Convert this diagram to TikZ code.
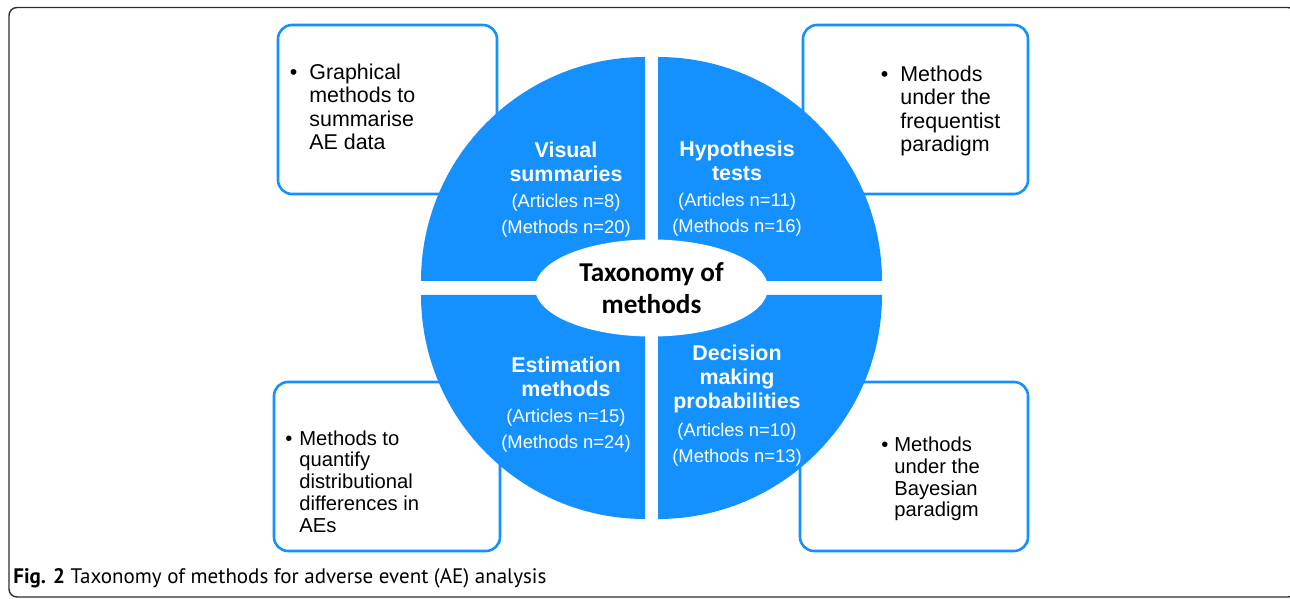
\documentclass[tikz,border=0pt]{standalone}
\usepackage{fontspec}
\setmainfont{Liberation Sans}
\newfontfamily\calibfont{Carlito}
\newfontfamily\capfont{PT Sans}
\usetikzlibrary{shapes.geometric}

\definecolor{aeblue}{RGB}{21,145,255}
\definecolor{framegray}{RGB}{45,45,45}

\tikzset{
  quarter/.style={fill=aeblue},
  infobox/.style={draw=aeblue, line width=1.3pt, rounded corners=7pt, fill=white, inner sep=0pt},
  boxtext/.style={align=left, anchor=west, inner sep=0pt, font=\fontsize{10.7}{11.65}\selectfont},
  boxtextsm/.style={align=left, anchor=west, inner sep=0pt, font=\fontsize{10.1}{10.9}\selectfont},
  qtitle/.style={align=center, inner sep=0pt, text=white, font=\fontsize{10.7}{12}\selectfont\bfseries},
  qcount/.style={align=center, inner sep=0pt, text=white, font=\fontsize{9.2}{13}\selectfont}
}

\begin{document}
\begin{tikzpicture}[x=0.5pt, y=0.5pt]
  \useasboundingbox (0,0) rectangle (1290,599);
  % outer frame
  \draw[framegray, line width=0.7pt, rounded corners=4pt] (9,2) rectangle (1296,591.5);

  % side boxes
  \node[infobox, minimum width=109.5pt, minimum height=84.5pt] (visbox) at (387.5,489.5) {};
  \node[infobox, minimum width=112.5pt, minimum height=84.5pt] (hypbox) at (915.5,489.5) {};
  \node[infobox, minimum width=113pt, minimum height=84.5pt] (estbox) at (387,132.5) {};
  \node[infobox, minimum width=114pt, minimum height=84.5pt] (decbox) at (914,132.5) {};

  \node[boxtext] (vistext) at (309,492) {\llap{\textbullet\hspace{6pt}}Graphical\\methods to\\summarise\\AE data};
  \node[boxtext] (hyptext) at (900,488) {\llap{\textbullet\hspace{6pt}}Methods\\under the\\frequentist\\paradigm};
  \node[boxtextsm] (esttext) at (299,117.5) {\llap{\textbullet\hspace{3.5pt}}Methods to\\quantify\\distributional\\differences in\\AEs};
  \node[boxtextsm] (dectext) at (894,120) {\llap{\textbullet\hspace{3pt}}Methods\\under the\\Bayesian\\paradigm};

  % four quarters of the disc
  \foreach \ang/\cx/\cy in {90/645/318, 0/658/318, 180/645/304, 270/658/304}{
    \fill[quarter] (\cx,\cy) -- ++(\ang:112pt) arc[start angle=\ang, delta angle=90, radius=112pt] -- cycle;
  }

  \node[ellipse, fill=white, minimum width=116.5pt, minimum height=48.5pt, inner sep=0pt,
        align=center, font=\calibfont\fontsize{13.6}{16}\selectfont\bfseries] (taxo) at (651.5,311) {Taxonomy of\\methods};

  \node[qtitle] (vistitle) at (566,437) {Visual\\summaries};
  \node[qcount] (viscount) at (566,383) {(Articles n=8)\\(Methods n=20)};
  \node[qtitle] (hyptitle) at (737,438.5) {Hypothesis\\tests};
  \node[qcount] (hypcount) at (737,384) {(Articles n=11)\\(Methods n=16)};
  \node[qtitle] (esttitle) at (566,222.5) {Estimation\\methods};
  \node[qcount] (estcount) at (566,168) {(Articles n=15)\\(Methods n=24)};
  \node[qtitle] (dectitle) at (737,220.5) {Decision\\making\\probabilities};
  \node[qcount] (deccount) at (737,154.5) {(Articles n=10)\\(Methods n=13)};

  % caption
  \node[anchor=west, inner sep=0pt, font=\capfont\fontsize{10.5}{12}\selectfont] (caption) at (13,21)
    {\textbf{Fig. 2} Taxonomy of methods for adverse event (AE) analysis};
\end{tikzpicture}
\end{document}
